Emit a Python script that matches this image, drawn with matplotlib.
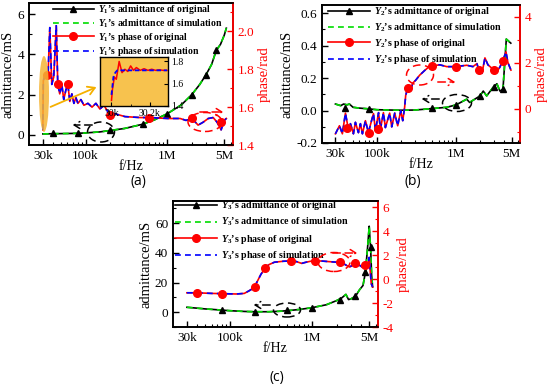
import matplotlib
matplotlib.use('Agg')
import matplotlib.pyplot as plt
from matplotlib.lines import Line2D
from matplotlib.patches import Ellipse, FancyArrowPatch
from matplotlib.ticker import NullFormatter, MultipleLocator, FormatStrFormatter, LogLocator

plt.rcParams['font.family'] = ['Liberation Serif', 'DejaVu Serif']
plt.rcParams['mathtext.fontset'] = 'custom'
plt.rcParams['mathtext.it'] = 'Liberation Serif:italic:bold'
plt.rcParams['mathtext.rm'] = 'Liberation Serif:bold'
plt.rcParams['mathtext.bf'] = 'Liberation Serif:bold'
plt.rcParams['axes.linewidth'] = 1.2

# ---------------- data: panel (a) ----------------
a_adm_f = [30e3, 40e3, 60e3, 80e3, 100e3, 150e3, 200e3, 300e3, 500e3, 700e3, 1e6, 1.5e6,
           2e6, 2.5e6, 3e6, 3.5e6, 4e6, 4.5e6, 5e6, 5.3e6]
a_adm_orig = [0.05, 0.06, 0.07, 0.08, 0.1, 0.15, 0.22, 0.32, 0.53, 0.75, 1.05, 1.5,
              2.0, 2.5, 3.0, 3.5, 4.2, 4.5, 4.95, 5.3]
a_adm_sim = a_adm_orig
a_adm_mark_f = [40e3, 80e3, 200e3, 500e3, 1e6, 2e6, 3e6, 4e6]
a_adm_mark_v = [0.08, 0.1, 0.25, 0.55, 1.05, 2.0, 3.0, 4.2]

a_ph_f = [30.0e3, 30.4e3, 32.7e3, 34.6e3, 36.5e3, 38.6e3, 40.8e3, 43.8e3, 45.7e3, 48.3e3,
          51.2e3, 54.1e3, 57.4e3, 60.7e3, 64.2e3, 68e3, 72e3, 76.2e3, 80.6e3, 87.8e3,
          95.5e3, 107e3, 120e3, 134e3, 150e3, 168e3, 188e3, 199e3, 229e3, 304e3,
          465e3, 616e3, 1.02e6, 1.44e6, 1.7e6, 2.02e6, 2.39e6, 2.75e6, 3.18e6, 3.66e6,
          4.09e6, 4.58e6, 5.0e6, 5.3e6]
a_ph_orig = [1.48, 1.74, 1.78, 1.75, 2.02, 1.72, 1.76, 2.03, 1.72, 1.67,
             1.72, 1.64, 1.69, 1.72, 1.63, 1.67, 1.62, 1.65, 1.62, 1.64,
             1.61, 1.62, 1.60, 1.62, 1.59, 1.61, 1.575, 1.56, 1.565, 1.55,
             1.545, 1.545, 1.54, 1.54, 1.53, 1.54, 1.505, 1.52, 1.54, 1.545,
             1.52, 1.48, 1.53, 1.54]
a_ph_sim = a_ph_orig
a_ph_mark_f = [33.5e3, 46e3, 61e3, 200e3, 600e3, 2e6, 4.5e6]
a_ph_mark_v = [1.77, 1.72, 1.72, 1.56, 1.545, 1.54, 1.52]

# inset of panel (a)
in_f_orig = [30.0e3, 30.005e3, 30.015e3, 30.025e3, 30.04e3, 30.055e3, 30.07e3, 30.085e3,
             30.10e3, 30.115e3, 30.13e3, 30.15e3, 30.17e3, 30.19e3, 30.21e3, 30.23e3,
             30.25e3, 30.27e3, 30.29e3]
in_ph_orig = [1.45, 1.55, 1.66, 1.64, 1.80, 1.70, 1.73, 1.71, 1.76, 1.72, 1.745, 1.72,
              1.735, 1.72, 1.73, 1.72, 1.725, 1.72, 1.72]
in_f_sim = [30.0e3, 30.01e3, 30.02e3, 30.03e3, 30.05e3, 30.1e3, 30.2e3, 30.29e3]
in_ph_sim = [1.50, 1.66, 1.70, 1.72, 1.72, 1.72, 1.72, 1.72]

# ---------------- data: panel (b) ----------------
b_adm_f = [30e3, 35e3, 38e3, 42e3, 45e3, 50e3, 60e3, 80e3, 100e3, 150e3, 200e3, 300e3,
           500e3, 763e3, 1e6, 1.36e6, 1.48e6, 2e6, 2.2e6, 2.43e6, 2.9e6, 3.27e6, 3.57e6,
           3.9e6, 4.3e6, 4.9e6]
b_adm_orig = [0.04, 0.03, 0.04, 0.035, 0.04, 0.02, 0.015, 0.01, 0.005, 0.003, 0.002, 0.003,
              0.012, 0.02, 0.035, 0.07, 0.05, 0.09, 0.12, 0.09, 0.14, 0.165, 0.12,
              0.13, 0.44, 0.415]
b_adm_sim = b_adm_orig
b_adm_mark_f = [40e3, 80e3, 500e3, 1e6, 2e6, 3e6, 3.9e6]
b_adm_mark_v = [0.015, 0.01, 0.015, 0.035, 0.09, 0.145, 0.13]

b_ph_f = [30e3, 33.7e3, 36.7e3, 40.1e3, 43.7e3, 46.4e3, 50.6e3, 53.6e3, 58.5e3, 62e3,
          65.7e3, 71.7e3, 78.3e3, 83e3, 90.6e3, 96e3, 105e3, 111e3, 121e3, 128e3,
          145e3, 154e3, 168e3, 183e3, 200e3, 212e3, 224e3, 231e3, 245e3, 267e3,
          283e3, 309e3, 347e3, 400e3, 450e3, 492e3, 621e3, 763e3, 990e3, 1.36e6,
          1.63e6, 1.83e6, 1.94e6, 2.12e6, 2.31e6, 2.52e6, 2.83e6, 3.0e6, 3.27e6, 3.57e6,
          3.9e6, 4.26e6, 4.5e6, 4.92e6]
b_ph_orig = [-1.1, -0.75, -1.1, -0.2, -0.9, -0.66, -1.1, -0.6, -1.05, -0.66,
             -1.1, -0.53, -1.05, -0.7, -0.22, -0.97, -0.18, -0.88, -0.18, -0.83,
             -0.2, -0.8, -0.2, -0.75, -0.1, -0.53, 0.05, 0.57, 0.88, 0.8,
             1.1, 1.23, 1.45, 1.65, 1.8, 1.85, 1.9, 1.82, 1.82, 1.88,
             1.82, 1.95, 1.67, 1.53, 2.2, 1.9, 1.75, 1.67, 1.6, 1.8,
             2.1, 2.46, 2.0, 1.67]
b_ph_sim = b_ph_orig
b_ph_mark_f = [42e3, 80e3, 102e3, 245e3, 492e3, 990e3, 1.94e6, 3.0e6, 3.9e6]
b_ph_mark_v = [-0.85, -1.05, -0.88, 0.88, 1.85, 1.82, 1.67, 1.67, 2.07]

# ---------------- data: panel (c) ----------------
c_adm_f = [30e3, 40e3, 50e3, 60e3, 80e3, 100e3, 150e3, 200e3, 300e3, 400e3, 500e3, 700e3,
           1e6, 1.5e6, 2e6, 2.3e6, 2.6e6, 2.8e6, 3.0e6, 3.4e6, 3.8e6, 4.2e6, 4.5e6, 4.8e6,
           5.0e6, 5.1e6, 5.2e6, 5.35e6, 5.5e6]
c_adm_orig = [3.3, 2.7, 2.2, 1.9, 1.4, 1.0, 0.5, 0.3, 0.3, 0.6, 1.0, 1.8,
              3.0, 5.0, 7.8, 9.5, 12.0, 8.5, 9.0, 10.7, 15.0, 18.0, 27.0, 45.0,
              58.0, 50.0, 44.0, 25.0, 17.0]
c_adm_sim = c_adm_orig
c_adm_mark_f = [80e3, 200e3, 500e3, 1e6, 2.2e6, 3.4e6, 4.5e6, 5.2e6]
c_adm_mark_v = [1.3, 0.0, 1.3, 3.0, 8.0, 10.7, 27.0, 44.0]

c_ph_f = [30e3, 40e3, 60e3, 80e3, 120e3, 150e3, 170e3, 190e3, 200e3, 220e3, 240e3, 270e3,
          300e3, 350e3, 450e3, 550e3, 650e3, 750e3, 850e3, 1e6, 1.3e6, 1.6e6, 2.0e6, 2.4e6,
          2.7e6, 2.9e6, 3.2e6, 3.4e6, 3.8e6, 4.1e6, 4.4e6, 4.6e6, 4.8e6, 5.0e6, 5.15e6,
          5.3e6, 5.5e6]
c_ph_orig = [-1.15, -1.15, -1.2, -1.22, -1.25, -1.2, -1.0, -0.8, -0.65, -0.1, 0.4, 0.9,
             1.2, 1.4, 1.48, 1.5, 1.45, 1.3, 1.4, 1.5, 1.5, 1.45, 1.4, 1.3,
             1.1, 1.0, 1.2, 1.3, 1.15, 1.0, 1.2, 1.35, 1.0, 1.8, 0.6,
             -0.4, -0.65]
c_ph_sim = c_ph_orig
c_ph_mark_f = [40e3, 80e3, 200e3, 268e3, 550e3, 1.1e6, 2.2e6, 3.4e6, 4.5e6]
c_ph_mark_v = [-1.15, -1.22, -0.65, 0.9, 1.47, 1.47, 1.39, 1.3, 1.2]

x_ticks = [30e3, 100e3, 1e6, 5e6]
x_ticklabels = ['30k', '100k', '1M', '5M']

# ---------------- styles ----------------
W, H = 550, 390
GREEN = '#00DD00'
RED = '#FF0000'
BLUE = '#0000FF'
DASH = (3.5, 2.5)


def P(x, y):
    return (x / W, 1 - y / H)


def rect(l, t, r, b):
    return [l / W, 1 - b / H, (r - l) / W, (b - t) / H]


fig = plt.figure(figsize=(5.5, 3.9), dpi=100)


def panel(box, adm_f, adm_o, adm_s, am_f, am_v, ph_f, ph_o, ph_s, pm_f, pm_v,
          ylim1, ymaj1, ymin1, fmt1, ylim2, ymaj2, ymin2, fmt2, idx, leg_xy, lsp, lfs):
    ax = fig.add_axes(rect(*box))
    ax2 = ax.twinx()
    ax.plot(adm_f, adm_o, color='k', lw=1.2, zorder=2)
    ax.plot(adm_f, adm_s, color=GREEN, lw=1.2, dashes=DASH, zorder=3)
    ax.plot(am_f, am_v, ls='none', marker='^', color='k', ms=5, zorder=4)
    ax2.plot(ph_f, ph_o, color=RED, lw=1.2, zorder=2)
    ax2.plot(ph_f, ph_s, color=BLUE, lw=1.2, dashes=DASH, zorder=3)
    ax2.plot(pm_f, pm_v, ls='none', marker='o', color=RED, ms=5.5, zorder=4)
    ax.set_xscale('log')
    ax.set_xlim(20.3e3, 6.4e6)
    ax.set_xticks(x_ticks)
    ax.set_xticklabels(x_ticklabels)
    ax.xaxis.set_minor_locator(LogLocator(base=10, subs=range(2, 10)))
    ax.xaxis.set_minor_formatter(NullFormatter())
    ax.set_ylim(*ylim1)
    ax.yaxis.set_major_locator(MultipleLocator(ymaj1))
    ax.yaxis.set_minor_locator(MultipleLocator(ymin1))
    ax.yaxis.set_major_formatter(FormatStrFormatter(fmt1))
    ax2.set_ylim(*ylim2)
    ax2.yaxis.set_major_locator(MultipleLocator(ymaj2))
    ax2.yaxis.set_minor_locator(MultipleLocator(ymin2))
    ax2.yaxis.set_major_formatter(FormatStrFormatter(fmt2))
    ax.tick_params(which='both', direction='in', labelsize=9.5, top=False)
    ax.tick_params(which='major', length=4, width=1)
    ax.tick_params(which='minor', length=2, width=0.8)
    ax2.tick_params(which='both', direction='in', colors=RED, labelsize=9.5)
    ax2.tick_params(which='major', length=4, width=1)
    ax2.tick_params(which='minor', length=2, width=0.8)
    ax2.spines['right'].set_color(RED)
    ax2.spines['right'].set_linewidth(1.3)
    ax.set_xlabel('f/Hz', fontsize=10, labelpad=-1.5)
    ax.set_ylabel('admittance/mS', fontsize=10.5, labelpad=2)
    ax2.set_ylabel('phase/rad', fontsize=10.5, color=RED, labelpad=2)
    handles = [Line2D([], [], color='k', lw=1.2, marker='^', ms=5),
               Line2D([], [], color=GREEN, lw=1.2, dashes=DASH),
               Line2D([], [], color=RED, lw=1.2, marker='o', ms=5.5),
               Line2D([], [], color=BLUE, lw=1.2, dashes=DASH)]
    labels = [r'$Y_%d$’s admittance of original' % idx,
              r'$Y_%d$’s admittance of simulation' % idx,
              r'$Y_%d$’s phase of original' % idx,
              r'$Y_%d$’s phase of simulation' % idx]
    fig.legend(handles, labels, loc='upper left', bbox_to_anchor=P(*leg_xy),
               bbox_transform=fig.transFigure, frameon=False, borderpad=0,
               borderaxespad=0, handlelength=4.2, handletextpad=0.4,
               labelspacing=lsp, prop={'family': 'Liberation Serif', 'weight': 'bold', 'size': lfs})
    return ax, ax2


# panel (a)
axa, axa2 = panel((29, 3, 233, 145), a_adm_f, a_adm_orig, a_adm_sim, a_adm_mark_f, a_adm_mark_v,
                  a_ph_f, a_ph_orig, a_ph_sim, a_ph_mark_f, a_ph_mark_v,
                  (-0.5, 6.55), 2, 1, '%d', (1.4, 2.15), 0.2, 0.1, '%.1f', 1, (53, 3), 0.12, 7.0)
# panel (b)
axb, axb2 = panel((322, 5, 520, 143), b_adm_f, b_adm_orig, b_adm_sim, b_adm_mark_f, b_adm_mark_v,
                  b_ph_f, b_ph_orig, b_ph_sim, b_ph_mark_f, b_ph_mark_v,
                  (-0.2, 0.65), 0.2, 0.1, '%.1f', (-1.5, 4.5), 2, 1, '%d', 2, (328, 5), 0.32, 7.2)
# panel (c)
axc, axc2 = panel((173, 201, 378, 327), c_adm_f, c_adm_orig, c_adm_sim, c_adm_mark_f, c_adm_mark_v,
                  c_ph_f, c_ph_orig, c_ph_sim, c_ph_mark_f, c_ph_mark_v,
                  (-10, 75), 20, 10, '%d', (-4, 6.5), 2, 1, '%d', 3, (175, 199), 0.4, 7.2)

# inset of (a)
axi = fig.add_axes(rect(100, 57, 168, 106), facecolor='#F7C24E')
axi.plot(in_f_orig, in_ph_orig, color=RED, lw=1.1)
axi.plot(in_f_sim, in_ph_sim, color=BLUE, lw=1.3, dashes=(2.5, 1.5))
axi.set_xlim(29.94e3, 30.295e3)
axi.set_ylim(1.4, 1.84)
axi.set_xticks([30e3, 30.2e3])
axi.set_xticklabels(['30k', '30.2k'])
axi.xaxis.set_minor_locator(MultipleLocator(100))
axi.set_yticks([1.4, 1.6, 1.8])
axi.set_yticklabels(['1.4', '1.6', '1.8'])
axi.yaxis.tick_right()
axi.tick_params(which='both', direction='in', labelsize=7, pad=2)
axi.tick_params(which='major', length=3)
axi.tick_params(which='minor', length=1.5)
for s in axi.spines.values():
    s.set_linewidth(1.0)

# orange highlight + arrow
fig.patches.append(Ellipse(P(44, 94), 10 / W, 76 / H, transform=fig.transFigure,
                           facecolor='#F5B536', edgecolor='none', alpha=0.85, zorder=0.5))
fig.add_artist(FancyArrowPatch(P(48, 108), P(99, 86), transform=fig.transFigure,
                               arrowstyle='->,head_length=5,head_width=3',
                               color='#F5B000', lw=1.3, zorder=10))


def ell(cx, cy, w, h, color):
    e = Ellipse(P(cx, cy), w / W, h / H, transform=fig.transFigure, fill=False,
                edgecolor=color, ls=(0, (5, 3)), lw=1.1, zorder=10)
    fig.add_artist(e)


def arr(x0, y0, x1, y1, color):
    fig.add_artist(FancyArrowPatch(
        P(x0, y0), P(x1, y1), transform=fig.transFigure, arrowstyle='->,head_length=4,head_width=2.5',
        color=color, lw=1.1, ls=(0, (5, 3)), zorder=10))


ell(101, 132, 27, 20, 'k'); arr(95, 125, 70, 125, 'k')
ell(205, 122, 34, 19, RED); arr(197, 112, 226, 112, RED)
ell(420, 75, 27, 20, RED); arr(435, 82, 458, 82, RED)
ell(457, 103, 29, 17, 'k'); arr(442, 99, 419, 99, 'k')
ell(287, 310, 27, 14, 'k'); arr(273, 305, 251, 305, 'k')
ell(334, 262, 32, 19, RED); arr(330, 253, 360, 253, RED)

for lab, (x, y) in [('(a)', (138, 182)), ('(b)', (413, 182)), ('(c)', (277, 378))]:
    fig.text(*P(x, y), lab, ha='center', va='center', fontsize=10, family='Open Sans')

fig.savefig('out.png', dpi=100)
